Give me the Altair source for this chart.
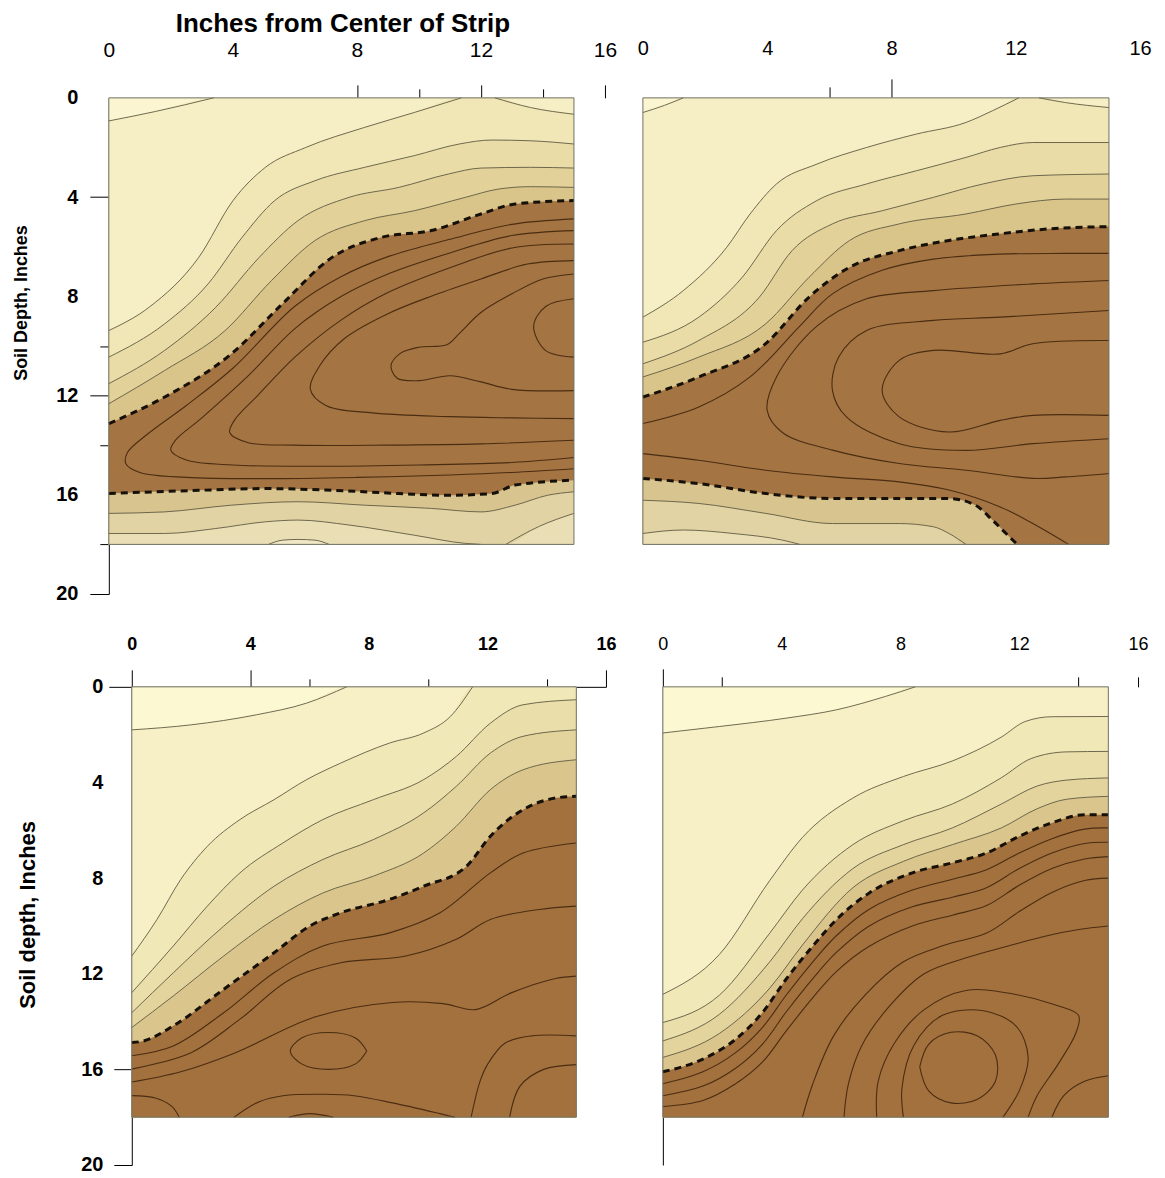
import json
import altair as alt
import pandas as pd

# ---------------- axes / frame values ----------------
X_DOMAIN = [0, 16]
DEPTH_DOMAIN = [0, 20]
X_TICK_VALUES = [0, 2, 4, 6, 8, 10, 12, 14, 16]
DEPTH_TICK_VALUES = [0, 2, 4, 6, 8, 10, 12, 14, 16, 18, 20]
X_EDGE = 15       # last sampled distance from strip centre (in)
DEPTH_EDGE = 18   # deepest sampled depth (in)

TOP_TITLE = "Inches from Center of Strip"
LEFT_TITLE_UPPER = "Soil Depth, Inches"
LEFT_TITLE_LOWER = "Soil depth, Inches"

# ---------------- panel 1 (top left): contour lines (x in, depth in) ----------------
P1_A = [(0, 0.93), (1.5, 0.55), (3.38, 0), (15, 0)]
P1_B = [(0, 9.38), (1.3, 8.44), (2.9, 6.43), (4.0, 4.15), (5.05, 2.8), (6.35, 2.0), (8.25, 1.19),
        (9.85, 0.59), (11.37, 0), (12.45, 0), (13.6, 0.39), (15, 0.66)]
P1_C = [(0, 10.45), (1.8, 9.11), (3.2, 7.5), (4.3, 5.62), (5.35, 4.14), (6.65, 3.34), (8.25, 2.8),
        (9.85, 2.33), (11.3, 1.86), (12.35, 1.7), (13.6, 1.73), (15, 1.86)]
P1_D = [(0, 11.52), (1.8, 10.18), (3.45, 8.44), (4.85, 6.43), (6.1, 4.95), (7.75, 4.01), (9.35, 3.61),
        (10.95, 3.07), (12.0, 2.83), (13.6, 2.8), (15, 2.83)]
P1_E = [(0, 12.33), (1.8, 10.99), (3.75, 9.38), (5.25, 7.36), (6.65, 5.75), (8.25, 4.95), (9.85, 4.55),
        (11.5, 4.01), (12.55, 3.68), (13.6, 3.58), (15, 3.61)]
P1_F = [(0, 13.13), (1.8, 12.06), (3.95, 10.32), (5.6, 8.3), (7.2, 6.43), (8.8, 5.62), (10.4, 5.35),
        (12.0, 4.68), (13.1, 4.28), (15, 4.14)]
P1_G = [(0, 15.95), (2.9, 15.82), (5.05, 15.75), (7.2, 15.82), (9.35, 15.95), (10.95, 16.02),
        (12.35, 15.95), (13.1, 15.61), (15, 15.41)]
P1_I = [(0, 16.75), (1.8, 16.69), (3.95, 16.42), (6.1, 16.28), (8.25, 16.42), (10.4, 16.55), (12.0, 16.69),
        (13.1, 16.42), (14.15, 16.02), (15, 15.88)]
P1_J = [(0, 17.56), (1.8, 17.56), (3.45, 17.36), (5.05, 17.09), (6.1, 17.02), (7.75, 17.22), (9.85, 17.63),
        (11.5, 17.96), (12.0, 18), (12.8, 18), (13.85, 17.29), (15, 16.75)]
P1_K = [(0, 18), (5.15, 18), (5.6, 17.83), (6.1, 17.8), (6.65, 17.83), (7.1, 18), (15, 18)]
P1_U1 = [(15, 4.88), (13, 5.1), (11, 5.7), (9, 6.4), (7.5, 7.2), (6, 8.4), (4, 10.9), (2.5, 12.4), (1.2, 13.6),
         (0.6, 14.3), (0.55, 14.75), (1, 15.1), (2.5, 15.3), (5, 15.35), (8, 15.3), (11, 15.2), (13, 15.1),
         (15, 14.95)]
P1_U2 = [(15, 5.35), (13, 5.55), (11, 6.25), (9, 7.1), (7.5, 8.0), (6, 9.3), (4.5, 11.2), (3, 12.9),
         (2.15, 13.8), (2.0, 14.2), (2.5, 14.6), (4, 14.8), (7, 14.85), (10, 14.8), (13, 14.7), (15, 14.5)]
P1_U3 = [(15, 5.89), (13, 6.05), (11, 6.85), (9, 7.85), (7.5, 8.95), (6, 10.45), (4.8, 12.0), (4.05, 13.0),
         (3.9, 13.5), (4.5, 13.9), (6, 14.0), (9, 14.0), (12, 13.95), (15, 13.8)]
P1_U4 = [(15, 6.56), (13.5, 6.7), (12, 7.3), (10.5, 7.95), (9, 8.7), (7.6, 9.7), (6.8, 10.8), (6.5, 11.75),
         (7, 12.4), (8.5, 12.7), (11, 12.85), (13, 12.9), (15, 12.93)]
P1_KEY = [(15, 7.1), (14, 7.3), (13, 7.9), (12, 8.65), (11.3, 9.5), (10.9, 9.95), (10, 10.05), (9.4, 10.3),
          (9.1, 10.8), (9.3, 11.3), (10, 11.4), (11, 11.2), (12, 11.45), (13, 11.75), (15, 11.8)]
P1_OVAL = [(15, 8.1), (14.1, 8.4), (13.7, 9.2), (14.1, 10.2), (15, 10.45)]

# ---------------- panel 2 (top right) ----------------
P2_A = [(0, 0.59), (0.7, 0.3), (1.3, 0), (15, 0)]
P2_B = [(0, 8.84), (1.3, 7.77), (2.7, 6.02), (3.45, 4.68), (4.3, 3.47), (5.6, 2.67), (7.2, 2.0), (8.8, 1.46),
        (10.4, 0.99), (11.25, 0.52), (12.1, 0), (12.75, 0), (13.6, 0.19), (15, 0.39)]
P2_C = [(0, 9.85), (1.8, 8.84), (3.2, 7.23), (4.3, 5.35), (5.6, 4.14), (7.2, 3.47), (8.8, 2.94), (10.4, 2.4),
        (11.5, 2.0), (12.55, 1.8), (15, 1.8)]
P2_D = [(0, 10.72), (1.8, 9.78), (3.75, 8.03), (4.8, 6.16), (6.1, 5.08), (7.7, 4.55), (9.35, 4.01),
        (10.95, 3.47), (12.55, 3.14), (15, 3.07)]
P2_E = [(0, 11.25), (1.8, 10.45), (3.95, 9.11), (5.35, 7.23), (6.65, 5.75), (8.25, 5.08), (10.4, 4.68),
        (12.0, 4.28), (13.6, 4.08), (15, 4.08)]
P2_F = [(0, 12.06), (1.8, 11.25), (3.95, 9.91), (5.35, 8.03), (6.65, 6.83), (8.25, 6.16), (9.85, 5.75),
        (11.5, 5.48), (13.1, 5.28), (15, 5.19)]
P2_G = [(0, 15.34), (1.8, 15.55), (3.95, 15.95), (6.1, 16.15), (8.25, 16.15), (9.85, 16.15), (10.7, 16.42),
        (11.25, 17.02), (11.8, 17.7), (12.05, 18), (15, 18)]
P2_H = [(0, 16.22), (1.8, 16.35), (3.95, 16.75), (6.1, 17.16), (8.25, 17.16), (9.35, 17.29), (9.85, 17.56),
        (10.4, 18), (15, 18)]
P2_I = [(0, 17.56), (1.3, 17.42), (2.9, 17.56), (4.5, 17.83), (5.05, 18), (15, 18)]
P2_L1 = [(0, 13.13), (1.8, 12.46), (3.45, 11.25), (5.05, 9.2), (6.1, 7.9), (7.7, 6.95), (9.35, 6.5),
         (11.5, 6.3), (13.6, 6.27), (15, 6.27)]
P2_C1 = [(15, 7.36), (12.55, 7.5), (9.35, 7.77), (7.2, 8.1), (5.6, 9.2), (4.3, 11.25), (4.0, 12.6), (4.5, 13.5),
         (6.1, 14.2), (8.25, 14.74), (10.4, 15.01), (12.55, 15.34), (13.6, 15.28), (15, 15.14)]
P2_C2 = [(15, 8.57), (11.5, 8.84), (9.35, 8.97), (7.2, 9.38), (6.3, 10.45), (6.1, 11.79), (6.55, 12.86),
         (8.25, 13.94), (10.4, 14.21), (12.55, 13.94), (15, 13.74)]
P2_C3 = [(15, 9.78), (12.55, 9.91), (11.5, 10.32), (9.35, 10.18), (8.25, 10.58), (7.7, 11.79), (8.25, 12.86),
         (9.85, 13.47), (11.5, 13.0), (12.55, 12.8), (15, 12.8)]
P2_LOW = [(0, 14.34), (1.8, 14.61), (3.95, 15.01), (6.1, 15.28), (8.25, 15.48), (9.85, 15.81), (11.5, 16.49),
          (12.55, 17.16), (13.7, 18)]

# ---------------- panel 3 (bottom left) ----------------
P3_A = [(0, 1.8), (2.0, 1.59), (4.2, 1.17), (5.9, 0.68), (7.25, 0), (15, 0)]
P3_B = [(0, 11.26), (0.85, 9.73), (1.65, 8.06), (2.55, 6.67), (3.65, 5.55), (4.8, 4.72), (5.9, 3.88),
        (7.05, 3.19), (8.7, 2.35), (9.85, 1.93), (10.75, 1.24), (11.5, 0), (15, 0)]
P3_C = [(0, 12.79), (1.4, 10.84), (2.55, 9.17), (3.65, 7.78), (5.1, 6.53), (6.45, 5.55), (8.15, 4.72),
        (9.85, 3.88), (10.95, 2.91), (12.1, 1.52), (13.2, 0.75), (15, 0.54)]
P3_D = [(0, 13.63), (1.4, 11.96), (3.1, 10.01), (4.8, 8.34), (6.45, 7.22), (8.15, 6.39), (9.85, 5.27),
        (10.95, 4.16), (12.1, 2.77), (13.2, 2.07), (15, 1.8)]
P3_E = [(0, 14.25), (1.4, 12.93), (3.1, 11.26), (4.8, 9.73), (6.45, 8.62), (8.15, 7.92), (9.85, 6.95),
        (10.95, 5.83), (12.1, 4.3), (13.2, 3.47), (15, 3.05)]
P3_F = [(0, 14.88), (0.4, 14.81), (1.4, 14.18), (3.1, 12.65), (4.8, 11.12), (6.0, 10.01), (7.05, 9.45),
        (8.7, 8.89), (9.85, 8.34), (11.3, 7.5), (12.1, 6.25), (13.2, 5.14), (14.3, 4.65), (15, 4.58)]
P3_M1 = [(0, 15.43), (1.4, 15.02), (3.1, 13.63), (4.8, 11.96), (6.45, 10.84), (8.7, 10.29), (10.4, 9.45),
         (12.1, 7.78), (13.2, 6.95), (15, 6.53)]
P3_M2 = [(0, 15.99), (2.0, 15.3), (3.65, 13.9), (5.35, 12.23), (7.05, 11.54), (9.25, 11.26), (10.95, 10.56),
         (12.1, 9.73), (13.75, 9.31), (15, 9.17)]
P3_M3 = [(0, 16.53), (1.65, 16.1), (3.5, 15.3), (6.2, 13.8), (8.8, 13.2), (10.5, 13.25), (11.6, 13.5),
         (12.8, 12.8), (14.3, 12.2), (15, 12.1)]
P3_N1 = [(0, 17.1), (0.8, 17.2), (1.35, 17.55), (1.6, 18)]
P3_N2 = [(3.45, 18), (4.3, 17.35), (5.1, 17.1), (6.5, 17.04), (7.5, 17.1), (8.8, 17.4), (10.4, 17.85),
         (10.9, 18)]
P3_N3 = [(15, 14.6), (13.5, 14.6), (12.6, 14.9), (12.0, 15.8), (11.75, 16.5), (11.45, 18)]
P3_N4 = [(15, 15.8), (13.9, 16.0), (13.1, 16.7), (12.75, 18)]
P3_N5 = [(5.3, 18), (6.0, 17.85), (6.8, 18)]
P3_OVAL = [(7.93, 15.23), (7.55, 14.69), (6.64, 14.46), (5.73, 14.69), (5.35, 15.23), (5.73, 15.77),
           (6.64, 16.0), (7.55, 15.77), (7.93, 15.23)]

# ---------------- panel 4 (bottom right) ----------------
P4_A = [(0, 1.93), (1.9, 1.66), (4.15, 1.31), (5.85, 0.96), (7.5, 0.4), (8.5, 0), (15, 0)]
P4_B = [(0, 12.86), (1.9, 11.2), (3.6, 8.1), (4.7, 6.3), (6.4, 4.65), (8.1, 3.75), (9.75, 3.1), (11.4, 2.1),
        (12.2, 1.45), (13.1, 1.25), (15, 1.24)]
P4_C = [(0, 14.04), (1.9, 12.9), (3.6, 10.3), (4.7, 8.5), (6.4, 6.6), (8.1, 5.6), (9.75, 4.9), (11.4, 3.8),
        (12.4, 3.0), (13.6, 2.72), (15, 2.7)]
P4_D = [(0, 14.81), (1.9, 13.7), (3.6, 11.5), (4.7, 9.7), (6.4, 7.6), (8.1, 6.6), (9.75, 5.9), (11.4, 4.9),
        (12.6, 4.15), (13.6, 3.9), (15, 3.81)]
P4_E = [(0, 15.5), (1.9, 14.5), (3.6, 12.6), (4.7, 10.8), (6.4, 8.4), (8.1, 7.3), (9.75, 6.6), (11.4, 5.9),
        (12.6, 5.1), (13.6, 4.7), (15, 4.58)]
P4_F = [(0, 16.1), (1.35, 15.57), (2.45, 14.74), (3.35, 13.63), (4.15, 12.23), (5.05, 10.84), (5.85, 9.73),
        (6.95, 8.62), (8.4, 7.78), (9.75, 7.36), (10.9, 6.95), (12.0, 6.25), (13.1, 5.69), (14.2, 5.35),
        (15, 5.35)]
P4_P1 = [(0, 16.6), (1.35, 16.1), (2.45, 15.3), (3.35, 14.25), (4.15, 12.9), (5.05, 11.5), (5.85, 10.4),
         (6.95, 9.3), (8.4, 8.5), (9.75, 8.05), (10.9, 7.65), (12.0, 6.95), (13.1, 6.35), (14.2, 5.95), (15, 5.9)]
P4_P2 = [(0, 17.1), (1.35, 16.7), (2.45, 15.95), (3.35, 14.95), (4.15, 13.6), (5.05, 12.2), (5.85, 11.1),
         (6.95, 10.0), (8.4, 9.2), (9.75, 8.8), (10.9, 8.4), (12.0, 7.6), (13.1, 6.95), (14.2, 6.55), (15, 6.5)]
P4_P3 = [(0, 17.55), (1.35, 17.3), (2.45, 16.6), (3.35, 15.7), (4.15, 14.4), (5.05, 13.0), (5.85, 11.9),
         (6.95, 10.85), (8.4, 10.0), (9.75, 9.55), (10.9, 9.15), (12.0, 8.3), (13.1, 7.6), (14.2, 7.2), (15, 7.1)]
P4_Q1 = [(4.7, 18), (5.05, 16.6), (5.75, 14.6), (6.8, 12.9), (8.1, 11.5), (9.5, 10.8), (10.9, 10.3),
         (12.0, 9.4), (13.1, 8.6), (14.2, 8.1), (15, 8.0)]
P4_Q2 = [(6.1, 18), (6.25, 16.6), (6.7, 15.0), (7.6, 13.4), (8.8, 12.0), (10.3, 11.3), (11.6, 10.85),
         (12.8, 10.45), (14.0, 10.15), (15, 10.0)]
P4_PEAR = [(7.2, 18), (7.25, 16.5), (7.8, 14.9), (8.8, 13.5), (10.2, 12.7), (11.8, 12.85), (13.2, 13.3),
           (14.0, 13.75), (13.9, 14.5), (13.3, 15.8), (12.6, 17.1), (12.3, 18)]
P4_LOOP2 = [(8.1, 18), (8.05, 16.8), (8.45, 15.0), (9.4, 13.75), (10.8, 13.55), (11.9, 14.2), (12.3, 15.5),
            (12.0, 16.9), (11.45, 18)]
P4_INNER = [(8.65, 15.9), (8.95, 14.95), (9.7, 14.45), (10.6, 14.6), (11.2, 15.4), (11.2, 16.5),
            (10.6, 17.25), (9.7, 17.4), (8.95, 16.9), (8.65, 15.9)]
P4_ARC = [(13.1, 18), (13.5, 17.1), (14.2, 16.5), (15, 16.27)]

# ---------------- styles ----------------
FONT = "Liberation Sans"
LIGHT_LINE = "#5f5b42"
DARK_LINE = "#4b2d12"
DASH_LINE = "#15100a"
BORDER = "#707064"
CREAM = "#FBF6D1"
UPPER_FILLS = ["#F6EEC4", "#F0E6B6", "#E9DCA7", "#E2D198", "#D9C489", "#A47443",
               "#D8C48F", "#E2D3A4", "#EADEB5", "#F0E7C4"]
LOWER_FILLS = ["#F7F0C6", "#F1E8B8", "#EADEAA", "#E3D39C", "#DAC68D", "#A3713E"]
LABEL_EVERY_4 = "datum.value % 4 == 0 ? datum.label : ''"


def tick_visible(vals):
    return {"condition": {"test": "indexof(%s, datum.value) >= 0" % json.dumps(vals), "value": 1}, "value": 0}


def by_test(test, yes, no):
    return {"condition": {"test": test, "value": yes}, "value": no}


def on_same_edge(p, q):
    return (p[1] == q[1]) and (p[1] == 0 or p[1] == DEPTH_EDGE)


def split_segments(pts):
    """Drop the stretches of a contour that only run along the frame edge."""
    segs, cur = [], []
    for p in pts:
        if cur and on_same_edge(cur[-1], p):
            if len(cur) > 1:
                segs.append(cur)
            cur = [p]
        else:
            cur.append(p)
    if len(cur) > 1:
        segs.append(cur)
    return segs


def lines_frame(lines):
    rows = []
    k = 0
    for pts in lines:
        for seg in split_segments(pts):
            for i, (x, d) in enumerate(seg):
                rows.append({"line": k, "o": i, "x": x, "d": d})
            k += 1
    return pd.DataFrame(rows)


def build_panel(bands, kinds, fills, base_fill, loops, width, height, x_axis, y_axis, x_min=0):
    xs = alt.Scale(domain=[x_min, X_DOMAIN[1]], nice=False, zero=False)
    ys = alt.Scale(domain=DEPTH_DOMAIN, nice=False, zero=False, reverse=True)
    frame = pd.DataFrame({"x0": [0], "x1": [X_EDGE], "d0": [0], "d1": [DEPTH_EDGE]})
    layers = [alt.Chart(frame).mark_rect(color=base_fill).encode(
        x=alt.X("x0:Q", scale=xs, axis=x_axis), x2="x1:Q",
        y=alt.Y("d0:Q", scale=ys, axis=y_axis), y2="d1:Q")]
    for pts, col in zip(bands, fills):
        df = pd.DataFrame(pts, columns=["x", "d"])
        layers.append(alt.Chart(df).mark_area(color=col, interpolate="monotone", orient="vertical").encode(
            x=alt.X("x:Q", scale=xs),
            y=alt.Y("d:Q", scale=ys),
            y2=alt.datum(DEPTH_EDGE)))
    light = [p for p, k in zip(bands, kinds) if k == "light"]
    dashed = [p for p, k in zip(bands, kinds) if k == "dash"]
    enc = dict(x=alt.X("x:Q", scale=xs), y=alt.Y("d:Q", scale=ys),
               detail="line:N", order="o:Q")
    if light:
        layers.append(alt.Chart(lines_frame(light)).mark_line(
            color=LIGHT_LINE, strokeWidth=0.9, interpolate="monotone").encode(**enc))
    if loops:
        layers.append(alt.Chart(lines_frame(loops)).mark_line(
            color=DARK_LINE, strokeWidth=1.1, interpolate="catmull-rom").encode(**enc))
    layers.append(alt.Chart(lines_frame(dashed)).mark_line(
        color=DASH_LINE, strokeWidth=3, strokeDash=[7, 5], interpolate="monotone").encode(**enc))
    layers.append(alt.Chart(frame).mark_rect(fillOpacity=0, stroke=BORDER, strokeWidth=1).encode(
        x=alt.X("x0:Q", scale=xs), x2="x1:Q",
        y=alt.Y("d0:Q", scale=ys), y2="d1:Q"))
    return alt.layer(*layers).properties(width=width, height=height)


common_x = dict(orient="top", values=X_TICK_VALUES, labelExpr=LABEL_EVERY_4, grid=False,
                tickColor="#000", tickWidth=1, labelFont=FONT, labelColor="#000",
                labelFlush=False, labelOverlap=False, domainColor="#000", domainWidth=1)
common_y = dict(orient="left", values=DEPTH_TICK_VALUES, labelExpr=LABEL_EVERY_4, grid=False,
                tickColor="#000", tickWidth=1, labelFont=FONT, labelColor="#000",
                labelFlush=False, labelOverlap=False, domainColor="#000", domainWidth=1)

ax1_x = alt.Axis(**common_x, domain=False, tickOpacity=tick_visible([8, 10, 12, 14, 16]),
                 tickSize=by_test("datum.value % 4 == 0", 13, 9), labelFontSize=21, labelPadding=24,
                 title=TOP_TITLE, titleFont=FONT, titleFontSize=26, titleFontWeight="bold",
                 titleColor="#000", titleX=234, titleY=-74, titleAlign="center", titleBaseline="middle")
ax1_y = alt.Axis(**common_y, domain=True, tickOpacity=tick_visible([4, 10, 12, 14, 18, 20]),
                 tickSize=by_test("datum.value % 4 == 0", 19, 9), labelFontSize=20,
                 labelFontWeight="bold", labelPadding=12,
                 title=LEFT_TITLE_UPPER, titleFont=FONT, titleFontSize=18, titleFontWeight="bold",
                 titleColor="#000", titleX=-87, titleY=205, titleAlign="center",
                 titleBaseline="middle", titleAngle=270)
ax2_x = alt.Axis(**common_x, domain=False, tickOpacity=tick_visible([6, 8]),
                 tickSize=by_test("datum.value % 4 == 0", 19, 11), labelFontSize=20, labelPadding=20,
                 title=None)
ax3_x = alt.Axis(**common_x, domain=True, tickOpacity=tick_visible([0, 4, 6, 10, 14, 16]),
                 tickSize=by_test("datum.value % 4 == 0", 17, 8), labelFontSize=18,
                 labelFontWeight="bold", labelPadding=16, title=None)
ax3_y = alt.Axis(**common_y, domain=True, offset=-23, tickOpacity=tick_visible([16, 20]),
                 tickSize=18, labelFontSize=20, labelFontWeight="bold", labelPadding=11,
                 title=LEFT_TITLE_LOWER, titleFont=FONT, titleFontSize=22, titleFontWeight="bold",
                 titleColor="#000", titleX=-104, titleY=228, titleAlign="center",
                 titleBaseline="middle", titleAngle=270)
ax4_x = alt.Axis(**common_x, domain=False, tickOpacity=tick_visible([0, 2, 14, 16]),
                 tickSize=by_test("datum.value == 0", 18, 10), labelFontSize=18,
                 labelPadding=by_test("datum.value == 0", 15, 23), title=None)
ax4_y = alt.Axis(orient="left", domain=True, domainColor="#000", domainWidth=1, offset=-20,
                 labels=False, ticks=False, grid=False, title=None)

p1 = build_panel([P1_A, P1_B, P1_C, P1_D, P1_E, P1_F, P1_G, P1_I, P1_J, P1_K],
                 ["light"] * 5 + ["dash", "dash"] + ["light"] * 3,
                 UPPER_FILLS, CREAM, [P1_U1, P1_U2, P1_U3, P1_U4, P1_KEY, P1_OVAL],
                 497, 497, ax1_x, ax1_y)
p2 = build_panel([P2_A, P2_B, P2_C, P2_D, P2_E, P2_F, P2_G, P2_H, P2_I],
                 ["light"] * 5 + ["dash", "dash"] + ["light"] * 2,
                 UPPER_FILLS[:9], CREAM, [P2_L1, P2_C1, P2_C2, P2_C3, P2_LOW],
                 498, 497, ax2_x, None)
p3 = build_panel([P3_A, P3_B, P3_C, P3_D, P3_E, P3_F],
                 ["light"] * 5 + ["dash"],
                 LOWER_FILLS, "#FCF8D2",
                 [P3_M1, P3_M2, P3_M3, P3_N1, P3_N2, P3_N3, P3_N4, P3_N5, P3_OVAL],
                 498, 479, ax3_x, ax3_y, x_min=-0.775)
p4 = build_panel([P4_A, P4_B, P4_C, P4_D, P4_E, P4_F],
                 ["light"] * 5 + ["dash"],
                 LOWER_FILLS, "#FCF8D2",
                 [P4_P1, P4_P2, P4_P3, P4_Q1, P4_Q2, P4_PEAR, P4_LOOP2, P4_INNER, P4_ARC],
                 496, 479, ax4_x, ax4_y, x_min=-0.672)

chart = alt.concat(p1, p2, p3, p4, columns=2, spacing={"row": 93, "column": 37}, bounds="flush") \
    .resolve_scale(x="independent", y="independent") \
    .properties(padding={"left": 5, "top": 2, "right": 5, "bottom": 5}, background="white") \
    .configure_view(stroke=None)

chart.save("out.html", embed_options={"renderer": "svg", "actions": False})
